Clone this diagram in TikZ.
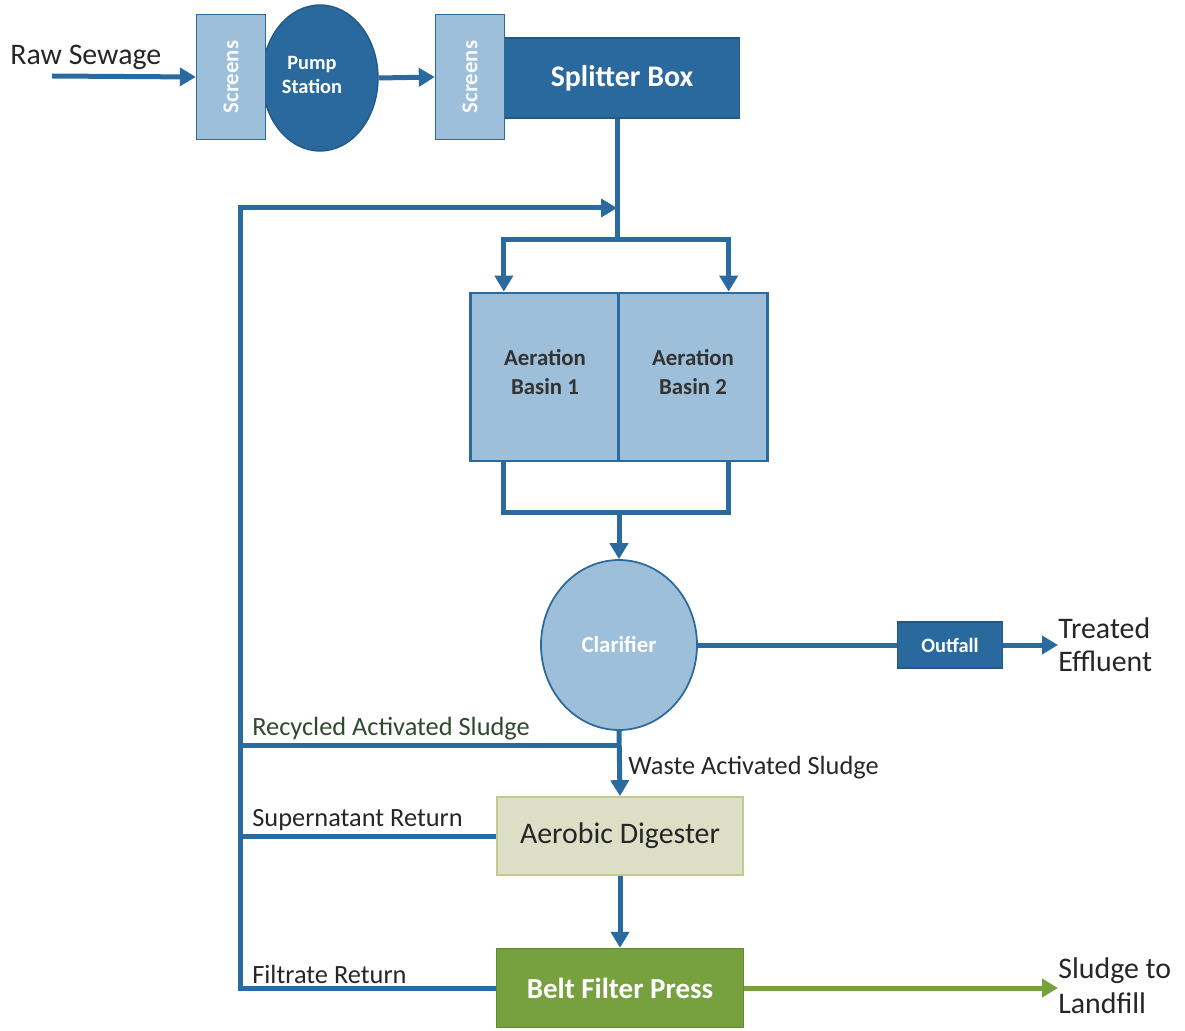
\documentclass[tikz,border=0pt]{standalone}
\usepackage{fontspec}
\setmainfont{Carlito}
\usetikzlibrary{arrows.meta,shapes.geometric}

\definecolor{pipeblue}{HTML}{2B6A9E}
\definecolor{darkunit}{HTML}{2A699D}
\definecolor{lightunit}{HTML}{9DBFD9}
\definecolor{digfill}{HTML}{DCDFC6}
\definecolor{digedge}{HTML}{C6C98E}
\definecolor{pressgreen}{HTML}{77A03E}
\definecolor{labelgreen}{HTML}{2E4A2E}

\begin{document}
\begin{tikzpicture}[x=0.02cm,y=-0.02cm,>={Triangle[length=0.32cm,width=0.36cm]}]
    \tikzset{flow/.style = {draw=pipeblue, line width=0.1cm}}
    \tikzset{sludgeflow/.style = {draw=pressgreen, line width=0.1cm}}
    \tikzset{screenbox/.style = {shape=rectangle, draw=darkunit, line width=0.8pt, fill=lightunit, minimum width=1.38cm, minimum height=2.5cm}}
    \tikzset{screentext/.style = {rotate=90, text=white!92!lightunit, font=\bfseries\fontsize{13}{15}\selectfont}}
    \tikzset{darkbox/.style = {shape=rectangle, draw=darkunit!85!black, line width=0.8pt, fill=darkunit, text=white, font=\bfseries}}
    \tikzset{basin/.style = {shape=rectangle, draw=pipeblue, line width=1.6pt, fill=lightunit, minimum width=2.97cm, minimum height=3.36cm}}
    \tikzset{basintext/.style = {align=center, text=black!80, font=\bfseries\fontsize{13}{16}\selectfont}}
    \tikzset{plain/.style = {inner sep=0pt, text=black!85, font=\fontsize{15}{18}\selectfont}}
    \tikzset{big/.style = {inner sep=0pt, align=left, text=black!85, font=\fontsize{17}{19}\selectfont}}

    \useasboundingbox (0,0) rectangle (1185,1030);

    % units
    \node[shape=ellipse, draw=darkunit!85!black, line width=0.8pt, fill=darkunit, minimum width=2.32cm, minimum height=2.92cm] (pump) at (320,78) {};
    \node[screenbox] (scr1) at (231,77) {};
    \node[screentext] at (scr1.center) {Screens};
    \node[align=center, text=white, font=\bfseries\fontsize{11.6}{14}\selectfont] (pumptxt) at (312,75) {Pump\\Station};
    \node[darkbox, minimum width=4.7cm, minimum height=1.6cm, font=\bfseries\fontsize{17}{20}\selectfont] (splitter) at (622,78) {Splitter Box};
    \node[screenbox] (scr2) at (470,77) {};
    \node[screentext] at (scr2.center) {Screens};

    \node[basin] (basin1) at (544.5,377) {};
    \node[basin] (basin2) at (693,377) {};
    \node[basintext] at (545,372) {Aeration\\Basin 1};
    \node[basintext] at (693,372) {Aeration\\Basin 2};

    \node[shape=ellipse, draw=pipeblue, line width=1pt, fill=lightunit, minimum width=3.12cm, minimum height=3.4cm, text=white, font=\bfseries\fontsize{13}{15}\selectfont] (clar) at (619,645) {Clarifier};
    \node[darkbox, minimum width=2.1cm, minimum height=0.92cm, font=\bfseries\fontsize{11.6}{14}\selectfont] (outfall) at (950,645) {Outfall};
    \node[shape=rectangle, draw=digedge, line width=1pt, fill=digfill, minimum width=4.92cm, minimum height=1.56cm, text=black!85, font=\fontsize{17}{20}\selectfont] (dig) at (620,836) {Aerobic Digester};
    \node[shape=rectangle, draw=pressgreen!85!black, line width=0.8pt, fill=pressgreen, minimum width=4.94cm, minimum height=1.58cm, text=white, font=\bfseries\fontsize{16.5}{20}\selectfont] (press) at (620,988) {Belt Filter Press};

    % end labels
    \node[big, anchor=west] (raw) at (10,57) {Raw Sewage};
    \node[big, anchor=west] (eff) at (1058,645) {Treated\\Effluent};
    \node[big, anchor=west, font=\fontsize{17}{20}\selectfont] (land) at (1058,986) {Sludge to\\Landfill};
    \coordinate (rawin) at (52,76);

    % junctions
    \coordinate (top) at (617,240);
    \coordinate (mix) at (619,512);
    \coordinate (rtop) at (240,208);
    \coordinate (rin) at (617,208);
    \coordinate (ras) at (619,745);

    % edges
    \draw[->,flow] (rawin) -- (scr1.west);
    \draw[->,flow] (pump.east) -- (scr2.west);
    \draw[flow] (splitter.south -| top) -- (top);
    \draw[->,flow] (top) -| ([xshift=0.7cm]basin1.north west);
    \draw[->,flow] (top) -| ([xshift=-0.8cm]basin2.north east);
    \draw[flow] ([xshift=0.7cm]basin1.south west) |- (mix) -| ([xshift=-0.8cm]basin2.south east);
    \draw[->,flow] (mix) -- (clar.north);
    \draw[flow] (clar.east) -- (outfall.west);
    \draw[->,flow] (outfall.east) -- (eff.west);
    \draw[->,flow] (clar.south) -- (dig.north);
    \draw[->,flow] (dig.south) -- (press.north);
    \draw[->,sludgeflow] (press.east) -- (press.east -| land.west);
    \draw[->,flow] (press.west) -| (rtop) -- (rin);
    \draw[flow] (ras) -- (ras -| rtop);
    \draw[flow] (dig.west) -- (dig.west -| rtop);

    % stream labels
    \node[plain, anchor=south west, text=labelgreen] (raslabel) at (252,740) {Recycled Activated Sludge};
    \node[plain, anchor=west] (waslabel) at (628,768) {Waste Activated Sludge};
    \node[plain, anchor=south west] (suplabel) at (252,831) {Supernatant Return};
    \node[plain, anchor=south west] (fillabel) at (252,984) {Filtrate Return};
\end{tikzpicture}
\end{document}
